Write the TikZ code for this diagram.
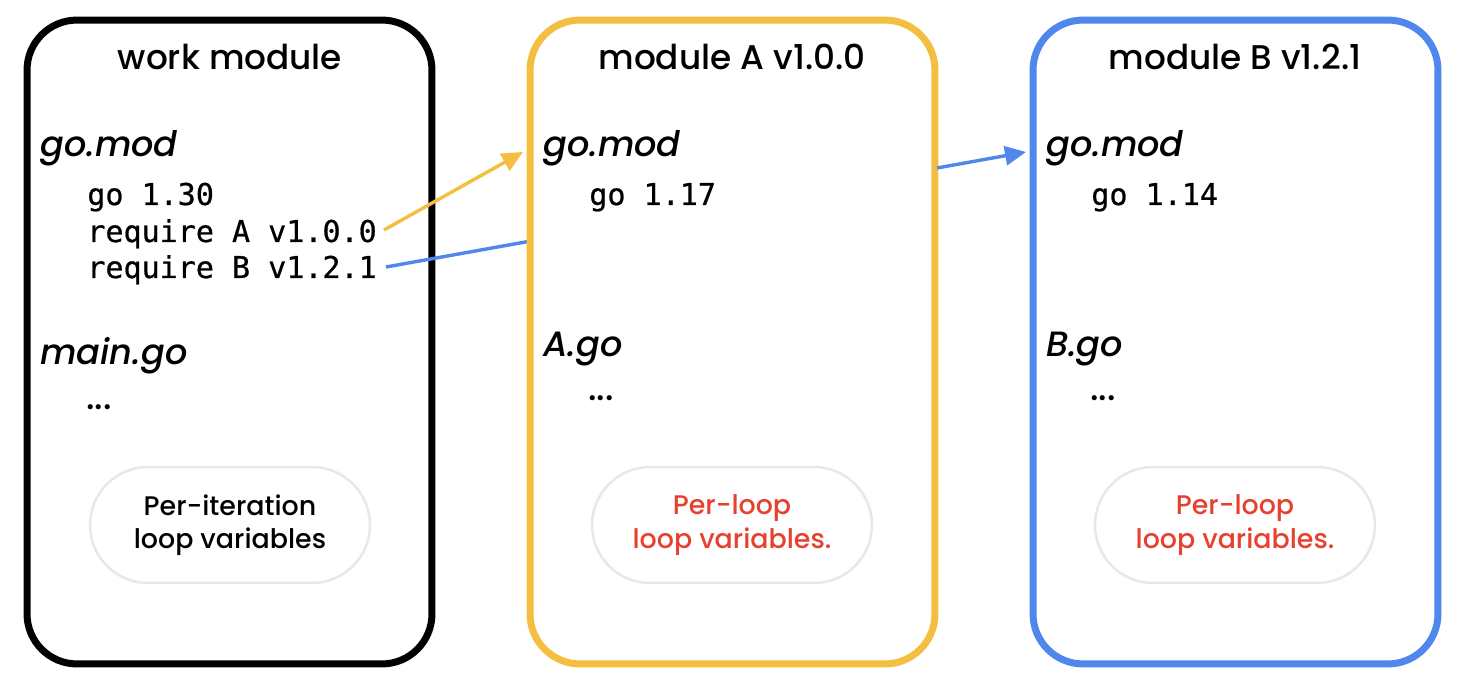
\documentclass[tikz,border=0pt]{standalone}
\usepackage{fontspec}
\setmainfont{Poppins}[BoldFont={Poppins Medium},BoldItalicFont={Poppins Medium Italic}]
\newfontfamily\codefont{DejaVu Sans Mono}[FakeBold=0.7]
\usetikzlibrary{arrows.meta}
\definecolor{ylw}{HTML}{F4BE41}
\definecolor{blu}{HTML}{4F87EC}
\definecolor{rd}{HTML}{E8402E}
\tikzset{
  mbox/.style={draw, line width=0.14cm, rounded corners=1cm, fill=white,
    minimum width=8.1cm, minimum height=12.88cm, inner sep=0pt},
  ttl/.style={anchor=base, inner sep=0pt, font=\fontsize{19.5}{23}\selectfont\bfseries},
  fname/.style={anchor=base west, inner sep=0pt, font=\fontsize{20}{24}\selectfont\bfseries\itshape},
  code/.style={anchor=base west, inner sep=0pt, font=\fontsize{17.1}{20}\selectfont\codefont},
  dots/.style={anchor=base west, inner sep=0pt, font=\fontsize{20}{21}\selectfont\bfseries},
  pill/.style={draw=black!9, line width=0.05cm, fill=white, rounded corners=1.16cm,
    minimum width=5.6cm, minimum height=2.32cm, align=center, inner sep=0pt,
    font=\fontsize{15.3}{19}\selectfont\bfseries},
  lnk/.style={line width=0.068cm},
  tip/.style={-{Triangle[length=0.42cm,width=0.38cm]}}
}
\begin{document}
\begin{tikzpicture}[x=0.02cm,y=-0.02cm]
\useasboundingbox[fill=white] (0,0) rectangle (1468,692);
% box work module
\node[mbox, draw=black] (wm) at (229.5,342) {};
\node[ttl] (wmt) at (230,70) {work module};
\node[fname] (wmf) at (40,157) {go.mod};
\node[code] (wc1) at (87,205) {go 1.30};
\node[code] (reqA) at (87,242) {require A v1.0.0};
\node[code] (reqB) at (87,278) {require B v1.2.1};
\node[fname] (wmg) at (40,365) {main.go};
\node[dots] (wmd) at (86,410) {...};
\node[pill] (wmp) at (230,525) {Per-iteration\\loop variables};
% blue line to module A (behind box A)
\coordinate (bStart) at (386,267);
\coordinate (bEnd) at (531,241);
\draw[lnk, blu] (bStart) -- (bEnd);
% box module A
\node[mbox, draw=ylw] (ma) at (732.5,342) {};
\node[ttl] (mat) at (732,70) {module A v1.0.0};
\node[fname] (maf) at (543,157) {go.mod};
\node[code] (ac1) at (589,205) {go 1.17};
\node[fname] (mag) at (543,357) {A.go};
\node[dots] (mad) at (588,401) {...};
\node[pill, text=rd] (map) at (732,525) {Per-loop\\loop variables.};
% box module B
\node[mbox, draw=blu] (mb) at (1235.5,342) {};
\node[ttl] (mbt) at (1235,70) {module B v1.2.1};
\node[fname] (mbf) at (1046,157) {go.mod};
\node[code] (bc1) at (1091,205) {go 1.14};
\node[fname] (mbg) at (1046,357) {B.go};
\node[dots] (mbd) at (1090,401) {...};
\node[pill, text=rd] (mbp) at (1235,525) {Per-loop\\loop variables.};
% arrows
\coordinate (yS) at (384,230);
\coordinate (yE) at (523,152);
\draw[lnk, ylw, tip] (yS) -- (yE);
\coordinate (b2S) at (937,168);
\coordinate (b2E) at (1026,152);
\draw[lnk, blu, tip] (b2S) -- (b2E);
\end{tikzpicture}
\end{document}
